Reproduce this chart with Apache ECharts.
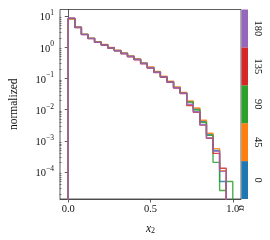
<!DOCTYPE html>
<html><head><meta charset="utf-8">
<script src="https://cdn.jsdelivr.net/npm/echarts@6/dist/echarts.min.js"></script>
<style>html,body{margin:0;padding:0;background:#fff}#c{width:270px;height:240px}</style>
</head><body><div id="c"></div>
<script>
const binEdges = [0,0.04,0.08,0.12,0.16,0.2,0.24,0.28,0.32,0.36,0.4,0.44,0.48,0.52,0.56,0.6,0.64,0.68,0.72,0.76,0.8,0.84,0.88,0.92,0.96,1.0];
const angles = ['0','45','90','135','180'];
const colors = ['#1f77b4','#ff7f0e','#2ca02c','#d62728','#9467bd'];
const vals0   = [8.4,4.38,2.6,1.94,1.47,1.21,0.97,0.79,0.645,0.515,0.413,0.308,0.226,0.162,0.114,0.079,0.052,0.0345,0.018,0.0105,0.0042,0.0016,4.97e-4,5.0e-5,0];
const vals45  = [8.0,4.45,2.65,1.97,1.5,1.24,0.99,0.81,0.66,0.53,0.425,0.318,0.233,0.167,0.118,0.082,0.054,0.036,0.019,0.0113,0.0046,0.00175,5.64e-4,1.1e-4,0];
const vals90  = [8.3,4.36,2.6,1.93,1.47,1.21,0.965,0.785,0.64,0.512,0.41,0.306,0.224,0.16,0.113,0.078,0.051,0.034,0.0175,0.0098,0.0039,0.0015,2.05e-4,2.58e-5,5.0e-5];
const vals135 = [8.5,4.3,2.56,1.9,1.44,1.18,0.95,0.77,0.625,0.5,0.4,0.298,0.218,0.156,0.11,0.076,0.0495,0.033,0.0136,0.0083,0.0032,0.00121,3.98e-4,1.32e-4,0];
const vals180 = [8.6,4.34,2.58,1.92,1.46,1.2,0.96,0.78,0.634,0.508,0.407,0.303,0.222,0.159,0.112,0.0776,0.0506,0.0337,0.015,0.0086,0.0033,0.00125,4.62e-4,1.05e-4,0];
const seriesVals = [vals0, vals45, vals90, vals135, vals180];
const yMajorTicks = [1e-4,1e-3,1e-2,1e-1,1,10];
const xTickVals = [0,0.5,1.0];
const yMin = 1.37e-5, yMax = 16.3;

const minorTicks = [];
for (let d = -5; d <= 1; d++) for (let m = 2; m <= 9; m++) { const v = m * Math.pow(10, d); if (v > yMin && v < yMax) minorTicks.push(v); }

const TINY = 1e-9;
function stepData(vals) {
  const pts = [[binEdges[0], TINY]];
  for (let i = 0; i < vals.length; i++) pts.push([binEdges[i], vals[i] > 0 ? vals[i] : TINY]);
  const last = vals[vals.length - 1];
  pts.push([binEdges[binEdges.length - 1], last > 0 ? last : TINY]);
  pts.push([binEdges[binEdges.length - 1], TINY]);
  return pts;
}
const FF = 'Liberation Serif';
const TC = '#111';
const AX = '#333';
const L = 53, T = 9.5, W = 188, H = 189.5;

const series = seriesVals.map((v, i) => ({
  type: 'line', step: 'end', xAxisIndex: 0, yAxisIndex: 0, data: stepData(v),
  showSymbol: false, symbol: 'none', clip: true, animation: false,
  lineStyle: { color: colors[i], width: 1.4, opacity: 0.85 }, z: 2 + i
}));
series.push({
  type: 'bar', xAxisIndex: 2, yAxisIndex: 2, barWidth: '100%', animation: false,
  data: angles.map((a, i) => ({ value: 1, itemStyle: { color: colors[i] } }))
});

const chart = echarts.init(document.getElementById('c'), null, { renderer: 'canvas' });
chart.setOption({
  animation: false,
  grid: [
    { left: L, top: T, width: W, height: H, show: true, borderColor: AX, borderWidth: 0.8, backgroundColor: 'transparent' },
    { left: L, top: T, width: W, height: H, show: false },
    { left: L + W + 0.5, top: T, width: 6.5, height: H, show: false }
  ],
  xAxis: [
    { type: 'value', gridIndex: 0, min: -0.05, max: 1.05,
      name: '{i|x}{sub|2}', nameLocation: 'middle', nameGap: 24,
      nameTextStyle: { rich: { i: { fontFamily: FF, fontStyle: 'italic', fontSize: 11.5, color: TC, verticalAlign: 'top', lineHeight: 12 },
                               sub: { fontFamily: FF, fontSize: 8, color: TC, verticalAlign: 'bottom', lineHeight: 8, padding: [6,0,0,0] } } },
      axisLine: { show: true, onZero: false, lineStyle: { color: AX, width: 0.8 } },
      axisTick: { show: true, customValues: xTickVals, length: 3.5, lineStyle: { color: AX, width: 0.8 } },
      axisLabel: { customValues: xTickVals, formatter: v => v.toFixed(1), fontFamily: FF, fontSize: 10.5, color: TC, margin: 5 },
      splitLine: { show: false } },
    { type: 'value', gridIndex: 1, min: -0.05, max: 1.05, show: false },
    { type: 'value', gridIndex: 2, min: 0, max: 1, show: false }
  ],
  yAxis: [
    { type: 'log', gridIndex: 0, min: yMin, max: yMax, logBase: 10,
      name: 'normalized', nameLocation: 'middle', nameGap: 40,
      nameTextStyle: { fontFamily: FF, fontSize: 11.5, color: TC },
      axisLine: { show: true, lineStyle: { color: AX, width: 0.8 } },
      axisTick: { show: true, customValues: yMajorTicks, length: 3.5, lineStyle: { color: AX, width: 0.8 } },
      minorTick: { show: false },
      axisLabel: { customValues: yMajorTicks, margin: 6, color: TC,
        formatter: v => { const e = Math.round(Math.log10(v)); return '{b|10}{s|' + (e < 0 ? '\u2212' + (-e) : e) + '}'; },
        rich: { b: { fontFamily: FF, fontSize: 10.5, color: TC, lineHeight: 14, verticalAlign: 'bottom' },
                s: { fontFamily: FF, fontSize: 7.5, color: TC, lineHeight: 8, verticalAlign: 'top' } } },
      splitLine: { show: false } },
    { type: 'log', gridIndex: 1, min: yMin, max: yMax, logBase: 10,
      axisLine: { show: false },
      axisTick: { show: true, customValues: minorTicks, length: 2, lineStyle: { color: AX, width: 0.6 } },
      axisLabel: { show: false }, splitLine: { show: false } },
    { type: 'category', gridIndex: 2, data: angles, position: 'right', inverse: false,
      name: '\u03b1', nameLocation: 'start', nameGap: 9, nameRotate: -90,
      nameTextStyle: { fontFamily: FF, fontSize: 11, color: TC, align: 'center', verticalAlign: 'middle', padding: [0, 0, 0, 0] },
      axisLine: { show: false }, axisTick: { show: false }, splitLine: { show: false },
      axisLabel: { rotate: -90, fontFamily: FF, fontSize: 10.5, color: TC, margin: 4 } }
  ],
  series: series
});
</script></body></html>
